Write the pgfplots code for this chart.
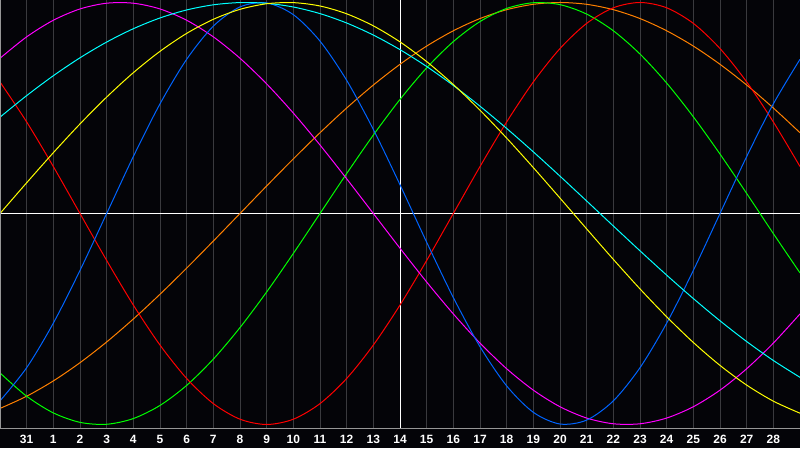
\documentclass[border=0pt]{standalone}
\usepackage{pgfplots}
\usepackage{pgfplotstable}
\pgfplotsset{compat=1.18}
\usepackage{fontspec}
\setmainfont{Liberation Sans}
\definecolor{bg}{RGB}{4,4,8}
\definecolor{gridc}{RGB}{58,58,62}
\definecolor{borderc}{RGB}{150,150,150}
\definecolor{cred}{RGB}{255,0,0}
\definecolor{cgreen}{RGB}{0,255,0}
\definecolor{cblue}{RGB}{0,100,255}
\definecolor{cmag}{RGB}{255,0,255}
\definecolor{ccyan}{RGB}{0,255,255}
\definecolor{cyel}{RGB}{255,255,0}
\definecolor{corange}{RGB}{255,128,0}
\pgfplotstableread{
t red green blue mag cyan yel orange
0 0.6235 -0.7557 -0.8879 0.7357 0.4566 0 -0.9239
1 0.4339 -0.8660 -0.7308 0.8372 0.5587 0.1456 -0.8660
2 0.2225 -0.9450 -0.5196 0.9158 0.6529 0.2881 -0.7934
3 0 -0.9898 -0.2698 0.9694 0.7379 0.4245 -0.7071
4 -0.2225 -0.9989 0 0.9966 0.8125 0.5517 -0.6088
5 -0.4339 -0.9718 0.2698 0.9966 0.8757 0.6673 -0.5
6 -0.6235 -0.9096 0.5196 0.9694 0.9267 0.7686 -0.3827
7 -0.7818 -0.8146 0.7308 0.9158 0.9646 0.8536 -0.2588
8 -0.9010 -0.6901 0.8879 0.8372 0.9890 0.9203 -0.1305
9 -0.9749 -0.5406 0.9791 0.7357 0.9996 0.9675 0
10 -1 -0.3717 0.9977 0.6142 0.9961 0.9940 0.1305
11 -0.9749 -0.1893 0.9423 0.4759 0.9786 0.9993 0.2588
12 -0.9010 0 0.8170 0.3247 0.9473 0.9834 0.3827
13 -0.7818 0.1893 0.6311 0.1646 0.9028 0.9464 0.5
14 -0.6235 0.3717 0.3984 0 0.8456 0.8893 0.6088
15 -0.4339 0.5406 0.1362 -0.1646 0.7765 0.8133 0.7071
16 -0.2225 0.6901 -0.1362 -0.3247 0.6966 0.7199 0.7934
17 0 0.8146 -0.3984 -0.4759 0.6068 0.6112 0.8660
18 0.2225 0.9096 -0.6311 -0.6142 0.5085 0.4894 0.9239
19 0.4339 0.9718 -0.8170 -0.7357 0.4031 0.3573 0.9659
20 0.6235 0.9989 -0.9423 -0.8372 0.2921 0.2174 0.9914
21 0.7818 0.9898 -0.9977 -0.9158 0.1769 0.0730 1
22 0.9010 0.9450 -0.9791 -0.9694 0.0592 -0.0730 0.9914
23 0.9749 0.8660 -0.8879 -0.9966 -0.0592 -0.2174 0.9659
24 1 0.7557 -0.7308 -0.9966 -0.1769 -0.3573 0.9239
25 0.9749 0.6182 -0.5196 -0.9694 -0.2921 -0.4894 0.8660
26 0.9010 0.4582 -0.2698 -0.9158 -0.4031 -0.6112 0.7934
27 0.7818 0.2817 0 -0.8372 -0.5085 -0.7199 0.7071
28 0.6235 0.0951 0.2698 -0.7357 -0.6068 -0.8133 0.6088
29 0.4339 -0.0951 0.5196 -0.6142 -0.6966 -0.8893 0.5
30 0.2225 -0.2817 0.7308 -0.4759 -0.7765 -0.9464 0.3827
}\bio
\begin{document}
\begin{tikzpicture}[x=1pt,y=1pt]
\path[use as bounding box] (0,0) rectangle (800,448);
\fill[bg] (0,0) rectangle (800,448);
\begin{axis}[name=ax, at={(0pt,20pt)}, anchor=south west,
  scale only axis, width=800pt, height=428pt,
  xmin=0, xmax=30, ymin=-1.0166, ymax=1.0118,
  axis line style={draw=none},
  xtick={1,...,29},
  xticklabels={31,1,2,3,4,5,6,7,8,9,10,11,12,13,14,15,16,17,18,19,20,21,22,23,24,25,26,27,28},
  ytick=\empty, major tick length=0pt,
  xmajorgrids, grid style={gridc, line width=1pt},
  xticklabel style={anchor=base, yshift=-15pt, text=white, font=\fontsize{12}{12}\selectfont\bfseries},
  every axis plot/.append style={line width=1pt, smooth, mark=none},
]
\addplot[white, sharp plot] coordinates {(0,0) (30,0)};
\addplot[white, sharp plot] coordinates {(15,-1.0166) (15,1.0118)};
\addplot[corange] table[x=t, y=orange] {\bio};
\addplot[cgreen] table[x=t, y=green] {\bio};
\addplot[cred] table[x=t, y=red] {\bio};
\addplot[cmag] table[x=t, y=mag] {\bio};
\addplot[cblue] table[x=t, y=blue] {\bio};
\addplot[ccyan] table[x=t, y=cyan] {\bio};
\addplot[cyel] table[x=t, y=yel] {\bio};
\end{axis}
\draw[borderc, line width=1pt] (ax.south west) -- (ax.south east);
\draw[borderc, line width=1pt] (ax.south west) -- (ax.north west) -- (ax.north east);
\end{tikzpicture}
\end{document}
